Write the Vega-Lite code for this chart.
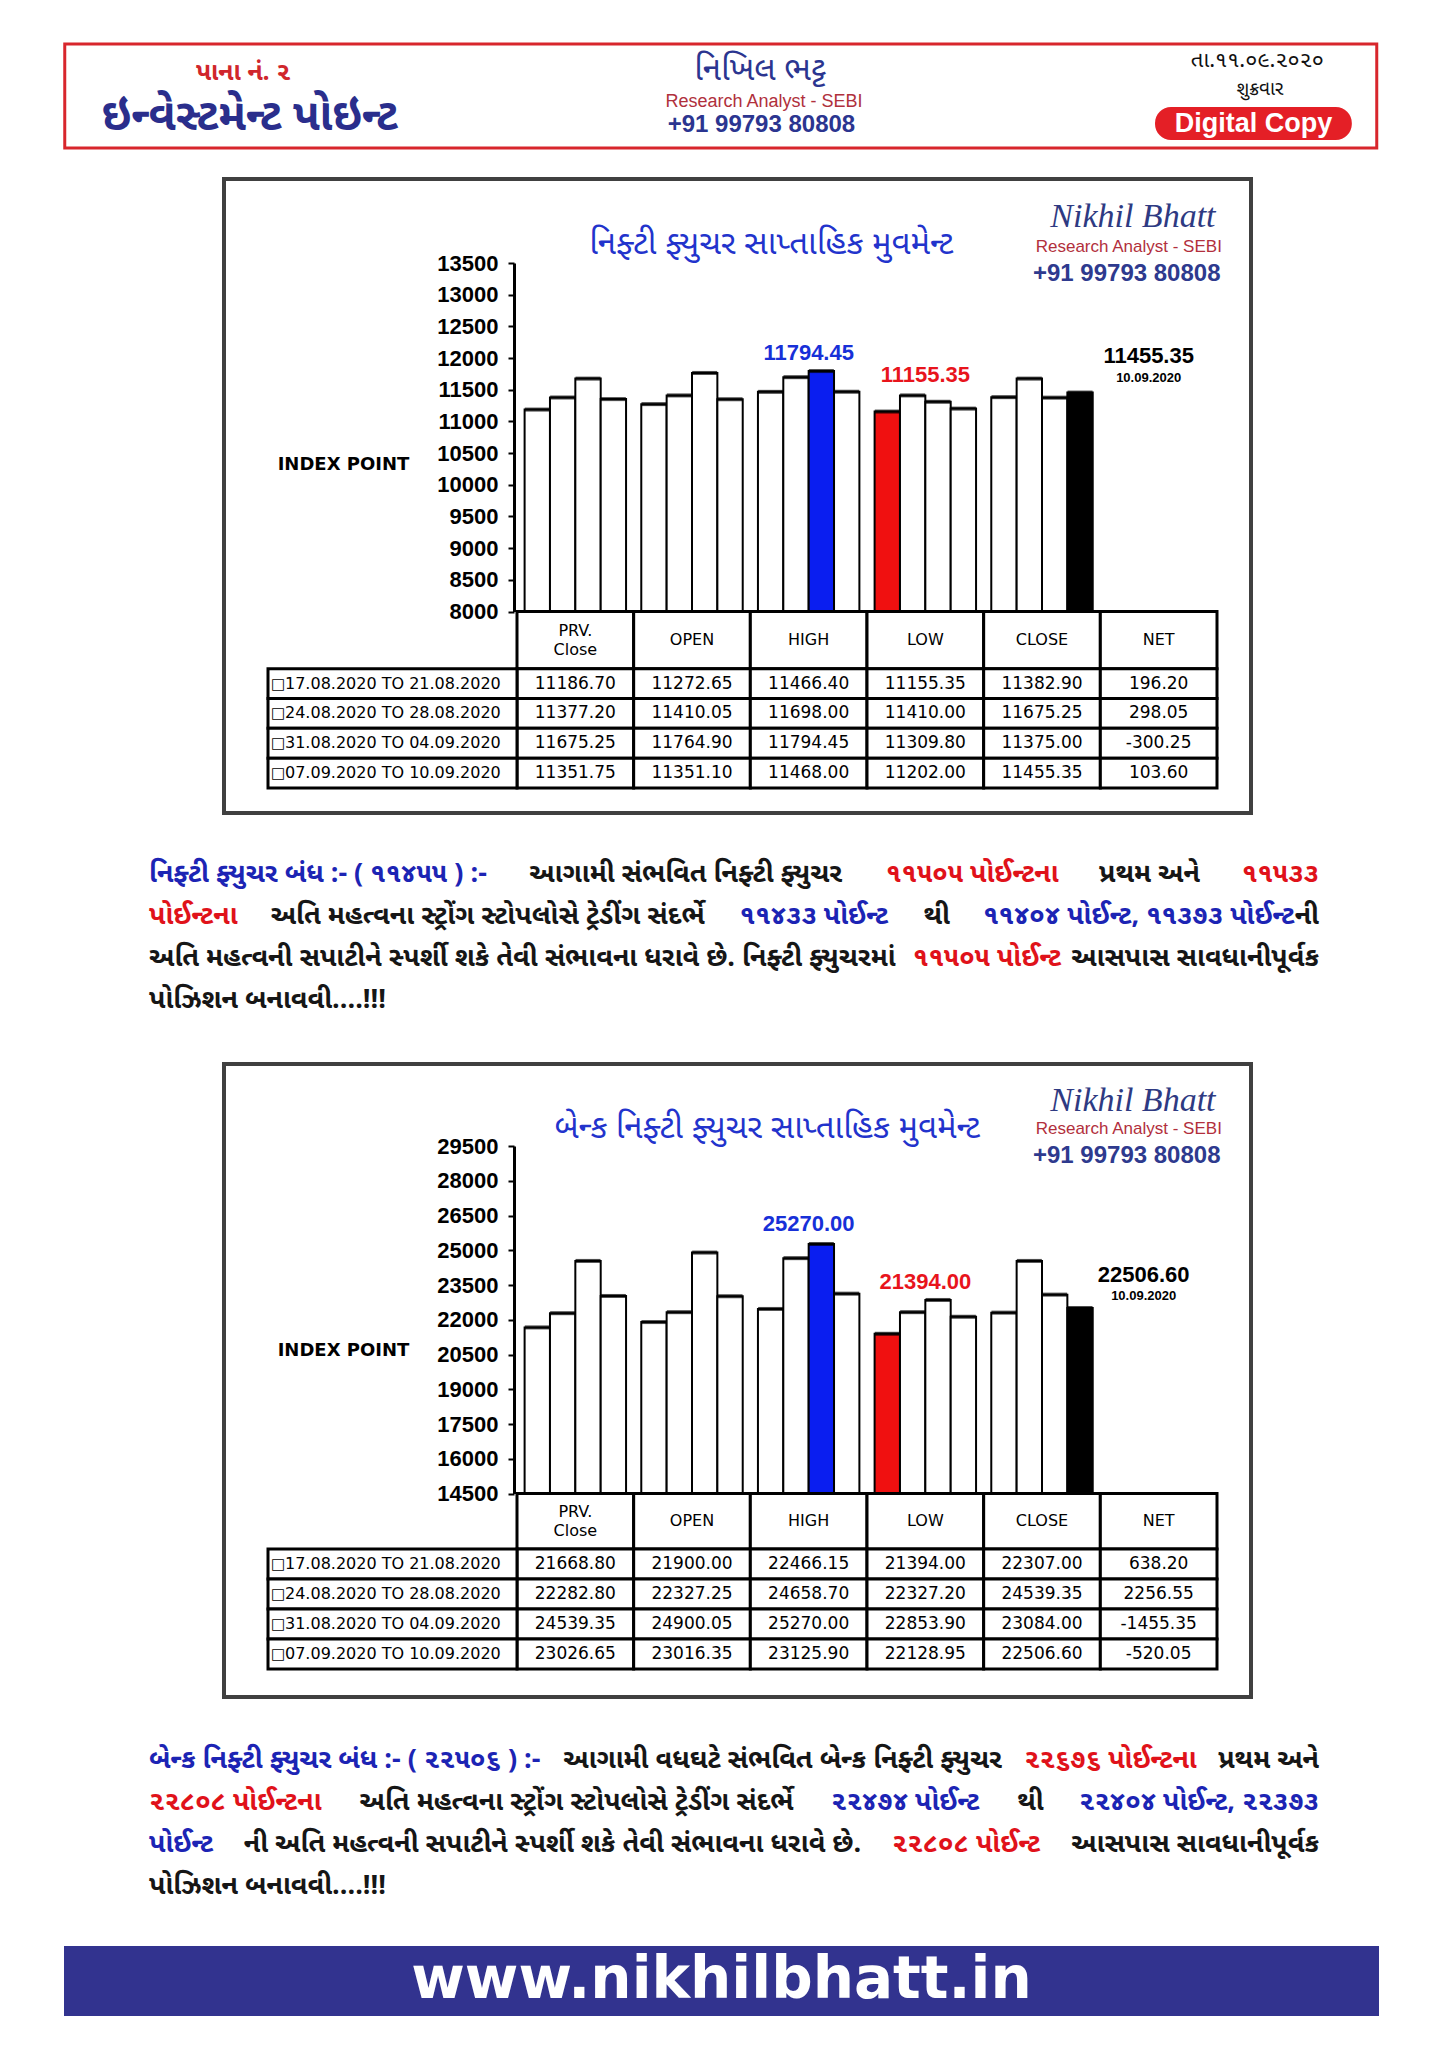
{
  "$schema": "https://vega.github.io/schema/vega-lite/v6.json",
  "background": "white",
  "padding": {"left": 63, "top": 42, "right": 70, "bottom": 30},
  "spacing": 27,
  "center": true,
  "config": {
    "view": {"stroke": null},
    "locale": {"number": {"decimal": ".", "thousands": ",", "grouping": [3], "currency": ["", ""], "minus": "-"}}
  },
  "datasets": {
    "cols": [
      {"col": "PRV", "head": "PRV.\nClose"},
      {"col": "OPEN", "head": "OPEN"},
      {"col": "HIGH", "head": "HIGH"},
      {"col": "LOW", "head": "LOW"},
      {"col": "CLOSE", "head": "CLOSE"},
      {"col": "NET", "head": "NET"}
    ],
    "nifty": [
      {"period": "17.08.2020 TO 21.08.2020", "week": 1, "col": "PRV", "value": 11186.70, "note": ""},
      {"period": "17.08.2020 TO 21.08.2020", "week": 1, "col": "OPEN", "value": 11272.65, "note": ""},
      {"period": "17.08.2020 TO 21.08.2020", "week": 1, "col": "HIGH", "value": 11466.40, "note": ""},
      {"period": "17.08.2020 TO 21.08.2020", "week": 1, "col": "LOW", "value": 11155.35, "note": "lowest low"},
      {"period": "17.08.2020 TO 21.08.2020", "week": 1, "col": "CLOSE", "value": 11382.90, "note": ""},
      {"period": "17.08.2020 TO 21.08.2020", "week": 1, "col": "NET", "value": 196.20, "note": ""},
      {"period": "24.08.2020 TO 28.08.2020", "week": 2, "col": "PRV", "value": 11377.20, "note": ""},
      {"period": "24.08.2020 TO 28.08.2020", "week": 2, "col": "OPEN", "value": 11410.05, "note": ""},
      {"period": "24.08.2020 TO 28.08.2020", "week": 2, "col": "HIGH", "value": 11698.00, "note": ""},
      {"period": "24.08.2020 TO 28.08.2020", "week": 2, "col": "LOW", "value": 11410.00, "note": ""},
      {"period": "24.08.2020 TO 28.08.2020", "week": 2, "col": "CLOSE", "value": 11675.25, "note": ""},
      {"period": "24.08.2020 TO 28.08.2020", "week": 2, "col": "NET", "value": 298.05, "note": ""},
      {"period": "31.08.2020 TO 04.09.2020", "week": 3, "col": "PRV", "value": 11675.25, "note": ""},
      {"period": "31.08.2020 TO 04.09.2020", "week": 3, "col": "OPEN", "value": 11764.90, "note": ""},
      {"period": "31.08.2020 TO 04.09.2020", "week": 3, "col": "HIGH", "value": 11794.45, "note": "highest high"},
      {"period": "31.08.2020 TO 04.09.2020", "week": 3, "col": "LOW", "value": 11309.80, "note": ""},
      {"period": "31.08.2020 TO 04.09.2020", "week": 3, "col": "CLOSE", "value": 11375.00, "note": ""},
      {"period": "31.08.2020 TO 04.09.2020", "week": 3, "col": "NET", "value": -300.25, "note": ""},
      {"period": "07.09.2020 TO 10.09.2020", "week": 4, "col": "PRV", "value": 11351.75, "note": ""},
      {"period": "07.09.2020 TO 10.09.2020", "week": 4, "col": "OPEN", "value": 11351.10, "note": ""},
      {"period": "07.09.2020 TO 10.09.2020", "week": 4, "col": "HIGH", "value": 11468.00, "note": ""},
      {"period": "07.09.2020 TO 10.09.2020", "week": 4, "col": "LOW", "value": 11202.00, "note": ""},
      {"period": "07.09.2020 TO 10.09.2020", "week": 4, "col": "CLOSE", "value": 11455.35, "note": "last close", "asof": "10.09.2020"},
      {"period": "07.09.2020 TO 10.09.2020", "week": 4, "col": "NET", "value": 103.60, "note": ""}
    ],
    "bank": [
      {"period": "17.08.2020 TO 21.08.2020", "week": 1, "col": "PRV", "value": 21668.80, "note": ""},
      {"period": "17.08.2020 TO 21.08.2020", "week": 1, "col": "OPEN", "value": 21900.00, "note": ""},
      {"period": "17.08.2020 TO 21.08.2020", "week": 1, "col": "HIGH", "value": 22466.15, "note": ""},
      {"period": "17.08.2020 TO 21.08.2020", "week": 1, "col": "LOW", "value": 21394.00, "note": "lowest low"},
      {"period": "17.08.2020 TO 21.08.2020", "week": 1, "col": "CLOSE", "value": 22307.00, "note": ""},
      {"period": "17.08.2020 TO 21.08.2020", "week": 1, "col": "NET", "value": 638.20, "note": ""},
      {"period": "24.08.2020 TO 28.08.2020", "week": 2, "col": "PRV", "value": 22282.80, "note": ""},
      {"period": "24.08.2020 TO 28.08.2020", "week": 2, "col": "OPEN", "value": 22327.25, "note": ""},
      {"period": "24.08.2020 TO 28.08.2020", "week": 2, "col": "HIGH", "value": 24658.70, "note": ""},
      {"period": "24.08.2020 TO 28.08.2020", "week": 2, "col": "LOW", "value": 22327.20, "note": ""},
      {"period": "24.08.2020 TO 28.08.2020", "week": 2, "col": "CLOSE", "value": 24539.35, "note": ""},
      {"period": "24.08.2020 TO 28.08.2020", "week": 2, "col": "NET", "value": 2256.55, "note": ""},
      {"period": "31.08.2020 TO 04.09.2020", "week": 3, "col": "PRV", "value": 24539.35, "note": ""},
      {"period": "31.08.2020 TO 04.09.2020", "week": 3, "col": "OPEN", "value": 24900.05, "note": ""},
      {"period": "31.08.2020 TO 04.09.2020", "week": 3, "col": "HIGH", "value": 25270.00, "note": "highest high"},
      {"period": "31.08.2020 TO 04.09.2020", "week": 3, "col": "LOW", "value": 22853.90, "note": ""},
      {"period": "31.08.2020 TO 04.09.2020", "week": 3, "col": "CLOSE", "value": 23084.00, "note": ""},
      {"period": "31.08.2020 TO 04.09.2020", "week": 3, "col": "NET", "value": -1455.35, "note": ""},
      {"period": "07.09.2020 TO 10.09.2020", "week": 4, "col": "PRV", "value": 23026.65, "note": ""},
      {"period": "07.09.2020 TO 10.09.2020", "week": 4, "col": "OPEN", "value": 23016.35, "note": ""},
      {"period": "07.09.2020 TO 10.09.2020", "week": 4, "col": "HIGH", "value": 23125.90, "note": ""},
      {"period": "07.09.2020 TO 10.09.2020", "week": 4, "col": "LOW", "value": 22128.95, "note": ""},
      {"period": "07.09.2020 TO 10.09.2020", "week": 4, "col": "CLOSE", "value": 22506.60, "note": "last close", "asof": "10.09.2020"},
      {"period": "07.09.2020 TO 10.09.2020", "week": 4, "col": "NET", "value": -520.05, "note": ""}
    ]
  },
  "vconcat": [
    {
      "width": 1312, "height": 104,
      "view": {"stroke": "#d8262c", "strokeWidth": 3, "fill": "white"},
      "layer": [
        {"data": {"values": [{"t": "પાના નં. ૨"}]}, "mark": {"type": "text", "font": "Noto Sans Gujarati, sans-serif", "fontSize": 25, "fontWeight": "bold", "color": "#d0262c", "baseline": "middle"},
         "encoding": {"x": {"datum": 13.6, "type": "quantitative", "scale": {"domain": [0, 100], "nice": false}, "axis": null}, "y": {"datum": 26.9, "type": "quantitative", "scale": {"domain": [0, 100], "nice": false, "reverse": true}, "axis": null}, "text": {"field": "t"}}},
        {"data": {"values": [{"t": "ઇન્વેસ્ટમેન્ટ પોઇન્ટ"}]}, "mark": {"type": "text", "font": "Noto Sans Gujarati, sans-serif", "fontSize": 44, "fontWeight": "bold", "color": "#2a2e8c", "baseline": "middle"},
         "encoding": {"x": {"datum": 14.1, "type": "quantitative", "scale": {"domain": [0, 100], "nice": false}, "axis": null}, "y": {"datum": 70.2, "type": "quantitative", "scale": {"domain": [0, 100], "nice": false, "reverse": true}, "axis": null}, "text": {"field": "t"}}},
        {"data": {"values": [{"t": "નિખિલ ભટ્ટ"}]}, "mark": {"type": "text", "font": "Noto Sans Gujarati, sans-serif", "fontSize": 33, "color": "#2b3590", "baseline": "middle"},
         "encoding": {"x": {"datum": 53.0, "type": "quantitative", "scale": {"domain": [0, 100], "nice": false}, "axis": null}, "y": {"datum": 25, "type": "quantitative", "scale": {"domain": [0, 100], "nice": false, "reverse": true}, "axis": null}, "text": {"field": "t"}}},
        {"data": {"values": [{"t": "Research Analyst - SEBI"}]}, "mark": {"type": "text", "font": "Liberation Sans", "fontSize": 18, "color": "#b0303c", "baseline": "middle"},
         "encoding": {"x": {"datum": 53.3, "type": "quantitative", "scale": {"domain": [0, 100], "nice": false}, "axis": null}, "y": {"datum": 55.8, "type": "quantitative", "scale": {"domain": [0, 100], "nice": false, "reverse": true}, "axis": null}, "text": {"field": "t"}}},
        {"data": {"values": [{"t": "+91 99793 80808"}]}, "mark": {"type": "text", "font": "Liberation Sans", "fontSize": 24, "fontWeight": "bold", "color": "#2b3590", "baseline": "middle"},
         "encoding": {"x": {"datum": 53.1, "type": "quantitative", "scale": {"domain": [0, 100], "nice": false}, "axis": null}, "y": {"datum": 77.9, "type": "quantitative", "scale": {"domain": [0, 100], "nice": false, "reverse": true}, "axis": null}, "text": {"field": "t"}}},
        {"data": {"values": [{"t": "તા.૧૧.૦૯.૨૦૨૦"}]}, "mark": {"type": "text", "font": "Noto Sans Gujarati, sans-serif", "fontSize": 22, "color": "#111111", "baseline": "middle"},
         "encoding": {"x": {"datum": 90.9, "type": "quantitative", "scale": {"domain": [0, 100], "nice": false}, "axis": null}, "y": {"datum": 15.4, "type": "quantitative", "scale": {"domain": [0, 100], "nice": false, "reverse": true}, "axis": null}, "text": {"field": "t"}}},
        {"data": {"values": [{"t": "શુક્રવાર"}]}, "mark": {"type": "text", "font": "Noto Sans Gujarati, sans-serif", "fontSize": 19, "color": "#111111", "baseline": "middle"},
         "encoding": {"x": {"datum": 91.1, "type": "quantitative", "scale": {"domain": [0, 100], "nice": false}, "axis": null}, "y": {"datum": 43.5, "type": "quantitative", "scale": {"domain": [0, 100], "nice": false, "reverse": true}, "axis": null}, "text": {"field": "t"}}},
        {"data": {"values": [{"t": "Digital Copy"}]}, "mark": {"type": "rect", "fill": "#e41f26", "cornerRadius": 16},
         "encoding": {"x": {"datum": 83.1, "type": "quantitative", "scale": {"domain": [0, 100], "nice": false}, "axis": null}, "x2": {"datum": 98.1}, "y": {"datum": 60.6, "type": "quantitative", "scale": {"domain": [0, 100], "nice": false, "reverse": true}, "axis": null}, "y2": {"datum": 92.3}}},
        {"data": {"values": [{"t": "Digital Copy"}]}, "mark": {"type": "text", "font": "Liberation Sans", "fontSize": 27, "fontWeight": "bold", "color": "#ffffff", "baseline": "middle"},
         "encoding": {"x": {"datum": 90.6, "type": "quantitative", "scale": {"domain": [0, 100], "nice": false}, "axis": null}, "y": {"datum": 77, "type": "quantitative", "scale": {"domain": [0, 100], "nice": false, "reverse": true}, "axis": null}, "text": {"field": "t"}}}
      ]
    },
    {
      "spacing": 0,
      "hconcat": [
        {"width": 32, "height": 634, "view": {"fill": "#ffffff", "stroke": null}, "data": {"values": [{"t": ""}]}, "mark": {"type": "text"}, "encoding": {"text": {"field": "t"}}},
        {
          "width": 1027, "height": 634,
          "view": {"stroke": "#404040", "strokeWidth": 4, "fill": "white"},
          "layer": [
            {
              "data": {"name": "nifty"},
              "transform": [{"filter": "datum.col != 'NET'"}],
              "layer": [
                {"mark": {"type": "bar", "stroke": "#000000", "strokeWidth": 2},
                 "encoding": {
                   "x": {"field": "col", "type": "nominal", "scale": {"domain": ["PRV", "OPEN", "HIGH", "LOW", "CLOSE", "NET"], "range": [293, 993], "paddingInner": 0, "paddingOuter": 0}, "axis": null},
                   "xOffset": {"field": "week", "type": "nominal", "scale": {"paddingInner": 0, "paddingOuter": 0.3}},
                   "y": {"field": "value", "type": "quantitative", "scale": {"domain": [8000, 13500], "range": [432.5, 84], "zero": false, "nice": false},
                     "axis": {"values": [8000, 8500, 9000, 9500, 10000, 10500, 11000, 11500, 12000, 12500, 13000, 13500], "format": "d", "offset": -290, "grid": false, "domainColor": "#000000", "domainWidth": 3, "tickColor": "#000000", "tickWidth": 2, "tickSize": 6, "labelFont": "Liberation Sans", "labelFontSize": 22, "labelFontWeight": "bold", "labelColor": "#000000", "labelPadding": 10, "labelFlush": false, "labelOverlap": false, "title": "INDEX POINT", "titleAngle": 0, "titleAlign": "center", "titleBaseline": "middle", "titleX": -171, "titleY": 285, "titleFont": "DejaVu Sans", "titleFontSize": 18, "titleFontWeight": "bold", "titleColor": "#000000"}},
                   "y2": {"datum": 8000},
                   "fill": {"field": "note", "type": "nominal", "scale": {"domain": ["", "highest high", "lowest low", "last close"], "range": ["#ffffff", "#0a1ef0", "#f01010", "#000000"]}, "legend": null}
                 }},
                {"mark": {"type": "tick", "color": "#000000", "thickness": 4, "size": 25},
                 "encoding": {"x": {"field": "col", "type": "nominal"}, "xOffset": {"field": "week", "type": "nominal"}, "y": {"field": "value", "type": "quantitative"}}},
                {"transform": [{"filter": "datum.note == 'highest high'"}],
                 "mark": {"type": "text", "font": "Liberation Sans", "fontSize": 22, "fontWeight": "bold", "color": "#1730d8", "dy": -18, "baseline": "middle"},
                 "encoding": {"x": {"field": "col", "type": "nominal"}, "y": {"field": "value", "type": "quantitative"}, "text": {"field": "value", "type": "quantitative", "format": ".2f"}}},
                {"transform": [{"filter": "datum.note == 'lowest low'"}],
                 "mark": {"type": "text", "font": "Liberation Sans", "fontSize": 22, "fontWeight": "bold", "color": "#e8141c", "dy": -37, "baseline": "middle"},
                 "encoding": {"x": {"field": "col", "type": "nominal"}, "y": {"field": "value", "type": "quantitative"}, "text": {"field": "value", "type": "quantitative", "format": ".2f"}}},
                {"transform": [{"filter": "datum.note == 'last close'"}],
                 "mark": {"type": "text", "font": "Liberation Sans", "fontSize": 22, "fontWeight": "bold", "color": "#000000", "dy": -37, "dx": -10, "baseline": "middle"},
                 "encoding": {"x": {"datum": "NET", "type": "nominal"}, "y": {"field": "value", "type": "quantitative"}, "text": {"field": "value", "type": "quantitative", "format": ".2f"}}},
                {"transform": [{"filter": "datum.note == 'last close'"}],
                 "mark": {"type": "text", "font": "Liberation Sans", "fontSize": 13, "fontWeight": "bold", "color": "#000000", "dy": -15, "dx": -10, "baseline": "middle"},
                 "encoding": {"x": {"datum": "NET", "type": "nominal"}, "y": {"field": "value", "type": "quantitative"}, "text": {"field": "asof"}}}
              ]
            },
            {
              "data": {"name": "cols"},
              "layer": [
                {"mark": {"type": "rect", "fill": "#ffffff", "stroke": "#000000", "strokeWidth": 3},
                 "encoding": {"x": {"field": "col", "type": "nominal", "scale": {"domain": ["PRV", "OPEN", "HIGH", "LOW", "CLOSE", "NET"], "range": [293, 993], "paddingInner": 0, "paddingOuter": 0}, "axis": null},
                   "y": {"datum": "head", "type": "nominal", "scale": {"domain": ["head"], "range": [432.5, 489.7], "paddingInner": 0, "paddingOuter": 0}, "axis": null}}},
                {"transform": [{"filter": "datum.col != 'PRV'"}],
                 "mark": {"type": "text", "font": "DejaVu Sans", "fontSize": 16, "color": "#000000", "baseline": "middle"},
                 "encoding": {"x": {"field": "col", "type": "nominal"}, "y": {"datum": "head", "type": "nominal"}, "text": {"field": "head"}}},
                {"transform": [{"filter": "datum.col == 'PRV'"}],
                 "mark": {"type": "text", "font": "DejaVu Sans", "fontSize": 16, "color": "#000000", "lineBreak": "\n", "lineHeight": 19, "baseline": "middle", "dy": -9.5},
                 "encoding": {"x": {"field": "col", "type": "nominal"}, "y": {"datum": "head", "type": "nominal"}, "text": {"field": "head"}}}
              ]
            },
            {
              "data": {"name": "nifty"},
              "layer": [
                {"mark": {"type": "rect", "fill": "#ffffff", "stroke": "#000000", "strokeWidth": 3},
                 "encoding": {"x": {"field": "col", "type": "nominal", "scale": {"domain": ["PRV", "OPEN", "HIGH", "LOW", "CLOSE", "NET"], "range": [293, 993], "paddingInner": 0, "paddingOuter": 0}, "axis": null},
                   "y": {"field": "period", "type": "nominal", "scale": {"domain": ["17.08.2020 TO 21.08.2020", "24.08.2020 TO 28.08.2020", "31.08.2020 TO 04.09.2020", "07.09.2020 TO 10.09.2020"], "range": [489.7, 609], "paddingInner": 0, "paddingOuter": 0}, "axis": null}}},
                {"mark": {"type": "text", "font": "DejaVu Sans", "fontSize": 17, "color": "#000000", "baseline": "middle"},
                 "encoding": {"x": {"field": "col", "type": "nominal"}, "y": {"field": "period", "type": "nominal"}, "text": {"field": "value", "type": "quantitative", "format": ".2f"}}}
              ]
            },
            {
              "data": {"name": "nifty"},
              "transform": [{"filter": "datum.col == 'PRV'"}],
              "layer": [
                {"mark": {"type": "rect", "fill": "#ffffff", "stroke": "#000000", "strokeWidth": 3},
                 "encoding": {"x": {"datum": "period", "type": "nominal", "scale": {"domain": ["period"], "range": [44, 293], "paddingInner": 0, "paddingOuter": 0}, "axis": null},
                   "y": {"field": "period", "type": "nominal", "scale": {"domain": ["17.08.2020 TO 21.08.2020", "24.08.2020 TO 28.08.2020", "31.08.2020 TO 04.09.2020", "07.09.2020 TO 10.09.2020"], "range": [489.7, 609], "paddingInner": 0, "paddingOuter": 0}, "axis": null}}},
                {"mark": {"type": "text", "font": "DejaVu Sans", "fontSize": 15, "fontWeight": "bold", "color": "#000000", "align": "center", "baseline": "middle", "dx": 10},
                 "encoding": {"x": {"datum": "period", "type": "nominal", "bandPosition": 0}, "y": {"field": "period", "type": "nominal"}, "text": {"value": "□"}}},
                {"mark": {"type": "text", "font": "DejaVu Sans", "fontSize": 16, "color": "#000000", "align": "left", "baseline": "middle", "dx": 17},
                 "encoding": {"x": {"datum": "period", "type": "nominal", "bandPosition": 0}, "y": {"field": "period", "type": "nominal"}, "text": {"field": "period"}}}
              ]
            },
            {
              "layer": [
                {"data": {"values": [{"t": "નિફ્ટી ફ્યુચર સાપ્તાહિક મુવમેન્ટ"}]}, "mark": {"type": "text", "font": "Noto Sans Gujarati, sans-serif", "fontSize": 33, "color": "#2233cc", "baseline": "middle"},
                 "encoding": {"x": {"datum": 53.3, "type": "quantitative", "scale": {"domain": [0, 100], "nice": false}, "axis": null}, "y": {"datum": 10.2, "type": "quantitative", "scale": {"domain": [0, 100], "nice": false, "reverse": true}, "axis": null}, "text": {"field": "t"}}},
                {"data": {"values": [{"t": "Nikhil Bhatt"}]}, "mark": {"type": "text", "font": "Liberation Serif", "fontSize": 34, "fontStyle": "italic", "color": "#2e3a82", "baseline": "middle"},
                 "encoding": {"x": {"datum": 88.5, "type": "quantitative", "scale": {"domain": [0, 100], "nice": false}, "axis": null}, "y": {"datum": 6.0, "type": "quantitative", "scale": {"domain": [0, 100], "nice": false, "reverse": true}, "axis": null}, "text": {"field": "t"}}},
                {"data": {"values": [{"t": "Research Analyst - SEBI"}]}, "mark": {"type": "text", "font": "Liberation Sans", "fontSize": 17, "color": "#b22f3c", "baseline": "middle"},
                 "encoding": {"x": {"datum": 88.1, "type": "quantitative", "scale": {"domain": [0, 100], "nice": false}, "axis": null}, "y": {"datum": 10.7, "type": "quantitative", "scale": {"domain": [0, 100], "nice": false, "reverse": true}, "axis": null}, "text": {"field": "t"}}},
                {"data": {"values": [{"t": "+91 99793 80808"}]}, "mark": {"type": "text", "font": "Liberation Sans", "fontSize": 24, "fontWeight": "bold", "color": "#2e3a8e", "baseline": "middle"},
                 "encoding": {"x": {"datum": 87.9, "type": "quantitative", "scale": {"domain": [0, 100], "nice": false}, "axis": null}, "y": {"datum": 15.0, "type": "quantitative", "scale": {"domain": [0, 100], "nice": false, "reverse": true}, "axis": null}, "text": {"field": "t"}}}
              ]
            }
          ],
          "resolve": {"scale": {"x": "independent", "y": "independent", "fill": "independent"}}
        }
      ]
    },
    {
      "width": 1195, "height": 193,
      "layer": [
        {"data": {"values": [{"t": "નિફ્ટી ફ્યુચર બંધ :- ( ૧૧૪૫૫ ) :-"}]}, "mark": {"type": "text", "align": "left", "baseline": "middle", "font": "Noto Sans Gujarati, sans-serif", "fontSize": 27, "fontWeight": "bold", "color": "#1c24b4"},
         "encoding": {"x": {"datum": 0, "type": "quantitative", "scale": {"domain": [0, 1], "range": [25, 1195], "nice": false, "zero": false}, "axis": null}, "y": {"datum": 1, "type": "quantitative", "scale": {"domain": [1, 4], "range": [32, 158], "nice": false, "zero": false}, "axis": null}, "text": {"field": "t"}}},
        {"data": {"values": [{"t": "આગામી સંભવિત નિફ્ટી ફ્યુચર"}]}, "mark": {"type": "text", "align": "left", "baseline": "middle", "font": "Noto Sans Gujarati, sans-serif", "fontSize": 27, "fontWeight": "bold", "color": "#161616"},
         "encoding": {"x": {"datum": 0.325, "type": "quantitative", "scale": {"domain": [0, 1], "range": [25, 1195], "nice": false, "zero": false}, "axis": null}, "y": {"datum": 1, "type": "quantitative", "scale": {"domain": [1, 4], "range": [32, 158], "nice": false, "zero": false}, "axis": null}, "text": {"field": "t"}}},
        {"data": {"values": [{"t": "૧૧૫૦૫ પોઈન્ટના"}]}, "mark": {"type": "text", "align": "left", "baseline": "middle", "font": "Noto Sans Gujarati, sans-serif", "fontSize": 27, "fontWeight": "bold", "color": "#e0121a"},
         "encoding": {"x": {"datum": 0.630, "type": "quantitative", "scale": {"domain": [0, 1], "range": [25, 1195], "nice": false, "zero": false}, "axis": null}, "y": {"datum": 1, "type": "quantitative", "scale": {"domain": [1, 4], "range": [32, 158], "nice": false, "zero": false}, "axis": null}, "text": {"field": "t"}}},
        {"data": {"values": [{"t": "પ્રથમ અને"}]}, "mark": {"type": "text", "align": "left", "baseline": "middle", "font": "Noto Sans Gujarati, sans-serif", "fontSize": 27, "fontWeight": "bold", "color": "#161616"},
         "encoding": {"x": {"datum": 0.812, "type": "quantitative", "scale": {"domain": [0, 1], "range": [25, 1195], "nice": false, "zero": false}, "axis": null}, "y": {"datum": 1, "type": "quantitative", "scale": {"domain": [1, 4], "range": [32, 158], "nice": false, "zero": false}, "axis": null}, "text": {"field": "t"}}},
        {"data": {"values": [{"t": "૧૧૫૩૩"}]}, "mark": {"type": "text", "align": "right", "baseline": "middle", "font": "Noto Sans Gujarati, sans-serif", "fontSize": 27, "fontWeight": "bold", "color": "#e0121a"},
         "encoding": {"x": {"datum": 1, "type": "quantitative", "scale": {"domain": [0, 1], "range": [25, 1195], "nice": false, "zero": false}, "axis": null}, "y": {"datum": 1, "type": "quantitative", "scale": {"domain": [1, 4], "range": [32, 158], "nice": false, "zero": false}, "axis": null}, "text": {"field": "t"}}},
        {"data": {"values": [{"t": "પોઈન્ટના"}]}, "mark": {"type": "text", "align": "left", "baseline": "middle", "font": "Noto Sans Gujarati, sans-serif", "fontSize": 27, "fontWeight": "bold", "color": "#e0121a"},
         "encoding": {"x": {"datum": 0, "type": "quantitative", "scale": {"domain": [0, 1], "range": [25, 1195], "nice": false, "zero": false}, "axis": null}, "y": {"datum": 2, "type": "quantitative", "scale": {"domain": [1, 4], "range": [32, 158], "nice": false, "zero": false}, "axis": null}, "text": {"field": "t"}}},
        {"data": {"values": [{"t": "અતિ મહત્વના સ્ટ્રોંગ સ્ટોપલોસે ટ્રેડીંગ સંદર્ભે"}]}, "mark": {"type": "text", "align": "left", "baseline": "middle", "font": "Noto Sans Gujarati, sans-serif", "fontSize": 27, "fontWeight": "bold", "color": "#161616"},
         "encoding": {"x": {"datum": 0.104, "type": "quantitative", "scale": {"domain": [0, 1], "range": [25, 1195], "nice": false, "zero": false}, "axis": null}, "y": {"datum": 2, "type": "quantitative", "scale": {"domain": [1, 4], "range": [32, 158], "nice": false, "zero": false}, "axis": null}, "text": {"field": "t"}}},
        {"data": {"values": [{"t": "૧૧૪૩૩ પોઈન્ટ"}]}, "mark": {"type": "text", "align": "left", "baseline": "middle", "font": "Noto Sans Gujarati, sans-serif", "fontSize": 27, "fontWeight": "bold", "color": "#1c24b4"},
         "encoding": {"x": {"datum": 0.505, "type": "quantitative", "scale": {"domain": [0, 1], "range": [25, 1195], "nice": false, "zero": false}, "axis": null}, "y": {"datum": 2, "type": "quantitative", "scale": {"domain": [1, 4], "range": [32, 158], "nice": false, "zero": false}, "axis": null}, "text": {"field": "t"}}},
        {"data": {"values": [{"t": "થી"}]}, "mark": {"type": "text", "align": "left", "baseline": "middle", "font": "Noto Sans Gujarati, sans-serif", "fontSize": 27, "fontWeight": "bold", "color": "#161616"},
         "encoding": {"x": {"datum": 0.662, "type": "quantitative", "scale": {"domain": [0, 1], "range": [25, 1195], "nice": false, "zero": false}, "axis": null}, "y": {"datum": 2, "type": "quantitative", "scale": {"domain": [1, 4], "range": [32, 158], "nice": false, "zero": false}, "axis": null}, "text": {"field": "t"}}},
        {"data": {"values": [{"t": "૧૧૪૦૪ પોઈન્ટ, ૧૧૩૭૩ પોઈન્ટ"}]}, "mark": {"type": "text", "align": "right", "baseline": "middle", "font": "Noto Sans Gujarati, sans-serif", "fontSize": 27, "fontWeight": "bold", "color": "#1c24b4"},
         "encoding": {"x": {"datum": 0.979, "type": "quantitative", "scale": {"domain": [0, 1], "range": [25, 1195], "nice": false, "zero": false}, "axis": null}, "y": {"datum": 2, "type": "quantitative", "scale": {"domain": [1, 4], "range": [32, 158], "nice": false, "zero": false}, "axis": null}, "text": {"field": "t"}}},
        {"data": {"values": [{"t": "ની"}]}, "mark": {"type": "text", "align": "right", "baseline": "middle", "font": "Noto Sans Gujarati, sans-serif", "fontSize": 27, "fontWeight": "bold", "color": "#161616"},
         "encoding": {"x": {"datum": 1, "type": "quantitative", "scale": {"domain": [0, 1], "range": [25, 1195], "nice": false, "zero": false}, "axis": null}, "y": {"datum": 2, "type": "quantitative", "scale": {"domain": [1, 4], "range": [32, 158], "nice": false, "zero": false}, "axis": null}, "text": {"field": "t"}}},
        {"data": {"values": [{"t": "અતિ મહત્વની સપાટીને સ્પર્શી શકે તેવી સંભાવના ધરાવે છે. નિફ્ટી ફ્યુચરમાં"}]}, "mark": {"type": "text", "align": "left", "baseline": "middle", "font": "Noto Sans Gujarati, sans-serif", "fontSize": 27, "fontWeight": "bold", "color": "#161616"},
         "encoding": {"x": {"datum": 0, "type": "quantitative", "scale": {"domain": [0, 1], "range": [25, 1195], "nice": false, "zero": false}, "axis": null}, "y": {"datum": 3, "type": "quantitative", "scale": {"domain": [1, 4], "range": [32, 158], "nice": false, "zero": false}, "axis": null}, "text": {"field": "t"}}},
        {"data": {"values": [{"t": "૧૧૫૦૫ પોઈન્ટ"}]}, "mark": {"type": "text", "align": "left", "baseline": "middle", "font": "Noto Sans Gujarati, sans-serif", "fontSize": 27, "fontWeight": "bold", "color": "#e0121a"},
         "encoding": {"x": {"datum": 0.653, "type": "quantitative", "scale": {"domain": [0, 1], "range": [25, 1195], "nice": false, "zero": false}, "axis": null}, "y": {"datum": 3, "type": "quantitative", "scale": {"domain": [1, 4], "range": [32, 158], "nice": false, "zero": false}, "axis": null}, "text": {"field": "t"}}},
        {"data": {"values": [{"t": "આસપાસ સાવધાનીપૂર્વક"}]}, "mark": {"type": "text", "align": "right", "baseline": "middle", "font": "Noto Sans Gujarati, sans-serif", "fontSize": 27, "fontWeight": "bold", "color": "#161616"},
         "encoding": {"x": {"datum": 1, "type": "quantitative", "scale": {"domain": [0, 1], "range": [25, 1195], "nice": false, "zero": false}, "axis": null}, "y": {"datum": 3, "type": "quantitative", "scale": {"domain": [1, 4], "range": [32, 158], "nice": false, "zero": false}, "axis": null}, "text": {"field": "t"}}},
        {"data": {"values": [{"t": "પોઝિશન બનાવવી....!!!"}]}, "mark": {"type": "text", "align": "left", "baseline": "middle", "font": "Noto Sans Gujarati, sans-serif", "fontSize": 27, "fontWeight": "bold", "color": "#161616"},
         "encoding": {"x": {"datum": 0, "type": "quantitative", "scale": {"domain": [0, 1], "range": [25, 1195], "nice": false, "zero": false}, "axis": null}, "y": {"datum": 4, "type": "quantitative", "scale": {"domain": [1, 4], "range": [32, 158], "nice": false, "zero": false}, "axis": null}, "text": {"field": "t"}}}
      ]
    },
    {
      "spacing": 0,
      "hconcat": [
        {"width": 32, "height": 633, "view": {"fill": "#ffffff", "stroke": null}, "data": {"values": [{"t": ""}]}, "mark": {"type": "text"}, "encoding": {"text": {"field": "t"}}},
        {
          "width": 1027, "height": 633,
          "view": {"stroke": "#404040", "strokeWidth": 4, "fill": "white"},
          "layer": [
            {
              "data": {"name": "bank"},
              "transform": [{"filter": "datum.col != 'NET'"}],
              "layer": [
                {"mark": {"type": "bar", "stroke": "#000000", "strokeWidth": 2},
                 "encoding": {
                   "x": {"field": "col", "type": "nominal", "scale": {"domain": ["PRV", "OPEN", "HIGH", "LOW", "CLOSE", "NET"], "range": [293, 993], "paddingInner": 0, "paddingOuter": 0}, "axis": null},
                   "xOffset": {"field": "week", "type": "nominal", "scale": {"paddingInner": 0, "paddingOuter": 0.3}},
                   "y": {"field": "value", "type": "quantitative", "scale": {"domain": [14500, 29500], "range": [429.5, 82], "zero": false, "nice": false},
                     "axis": {"values": [14500, 16000, 17500, 19000, 20500, 22000, 23500, 25000, 26500, 28000, 29500], "format": "d", "offset": -290, "grid": false, "domainColor": "#000000", "domainWidth": 3, "tickColor": "#000000", "tickWidth": 2, "tickSize": 6, "labelFont": "Liberation Sans", "labelFontSize": 22, "labelFontWeight": "bold", "labelColor": "#000000", "labelPadding": 10, "labelFlush": false, "labelOverlap": false, "title": "INDEX POINT", "titleAngle": 0, "titleAlign": "center", "titleBaseline": "middle", "titleX": -171, "titleY": 286, "titleFont": "DejaVu Sans", "titleFontSize": 18, "titleFontWeight": "bold", "titleColor": "#000000"}},
                   "y2": {"datum": 14500},
                   "fill": {"field": "note", "type": "nominal", "scale": {"domain": ["", "highest high", "lowest low", "last close"], "range": ["#ffffff", "#0a1ef0", "#f01010", "#000000"]}, "legend": null}
                 }},
                {"mark": {"type": "tick", "color": "#000000", "thickness": 4, "size": 25},
                 "encoding": {"x": {"field": "col", "type": "nominal"}, "xOffset": {"field": "week", "type": "nominal"}, "y": {"field": "value", "type": "quantitative"}}},
                {"transform": [{"filter": "datum.note == 'highest high'"}],
                 "mark": {"type": "text", "font": "Liberation Sans", "fontSize": 22, "fontWeight": "bold", "color": "#1730d8", "dy": -20, "baseline": "middle"},
                 "encoding": {"x": {"field": "col", "type": "nominal"}, "y": {"field": "value", "type": "quantitative"}, "text": {"field": "value", "type": "quantitative", "format": ".2f"}}},
                {"transform": [{"filter": "datum.note == 'lowest low'"}],
                 "mark": {"type": "text", "font": "Liberation Sans", "fontSize": 22, "fontWeight": "bold", "color": "#e8141c", "dy": -52, "baseline": "middle"},
                 "encoding": {"x": {"field": "col", "type": "nominal"}, "y": {"field": "value", "type": "quantitative"}, "text": {"field": "value", "type": "quantitative", "format": ".2f"}}},
                {"transform": [{"filter": "datum.note == 'last close'"}],
                 "mark": {"type": "text", "font": "Liberation Sans", "fontSize": 22, "fontWeight": "bold", "color": "#000000", "dy": -33, "dx": -15, "baseline": "middle"},
                 "encoding": {"x": {"datum": "NET", "type": "nominal"}, "y": {"field": "value", "type": "quantitative"}, "text": {"field": "value", "type": "quantitative", "format": ".2f"}}},
                {"transform": [{"filter": "datum.note == 'last close'"}],
                 "mark": {"type": "text", "font": "Liberation Sans", "fontSize": 13, "fontWeight": "bold", "color": "#000000", "dy": -12, "dx": -15, "baseline": "middle"},
                 "encoding": {"x": {"datum": "NET", "type": "nominal"}, "y": {"field": "value", "type": "quantitative"}, "text": {"field": "asof"}}}
              ]
            },
            {
              "data": {"name": "cols"},
              "layer": [
                {"mark": {"type": "rect", "fill": "#ffffff", "stroke": "#000000", "strokeWidth": 3},
                 "encoding": {"x": {"field": "col", "type": "nominal", "scale": {"domain": ["PRV", "OPEN", "HIGH", "LOW", "CLOSE", "NET"], "range": [293, 993], "paddingInner": 0, "paddingOuter": 0}, "axis": null},
                   "y": {"datum": "head", "type": "nominal", "scale": {"domain": ["head"], "range": [429.5, 485], "paddingInner": 0, "paddingOuter": 0}, "axis": null}}},
                {"transform": [{"filter": "datum.col != 'PRV'"}],
                 "mark": {"type": "text", "font": "DejaVu Sans", "fontSize": 16, "color": "#000000", "baseline": "middle"},
                 "encoding": {"x": {"field": "col", "type": "nominal"}, "y": {"datum": "head", "type": "nominal"}, "text": {"field": "head"}}},
                {"transform": [{"filter": "datum.col == 'PRV'"}],
                 "mark": {"type": "text", "font": "DejaVu Sans", "fontSize": 16, "color": "#000000", "lineBreak": "\n", "lineHeight": 19, "baseline": "middle", "dy": -9.5},
                 "encoding": {"x": {"field": "col", "type": "nominal"}, "y": {"datum": "head", "type": "nominal"}, "text": {"field": "head"}}}
              ]
            },
            {
              "data": {"name": "bank"},
              "layer": [
                {"mark": {"type": "rect", "fill": "#ffffff", "stroke": "#000000", "strokeWidth": 3},
                 "encoding": {"x": {"field": "col", "type": "nominal", "scale": {"domain": ["PRV", "OPEN", "HIGH", "LOW", "CLOSE", "NET"], "range": [293, 993], "paddingInner": 0, "paddingOuter": 0}, "axis": null},
                   "y": {"field": "period", "type": "nominal", "scale": {"domain": ["17.08.2020 TO 21.08.2020", "24.08.2020 TO 28.08.2020", "31.08.2020 TO 04.09.2020", "07.09.2020 TO 10.09.2020"], "range": [485, 605], "paddingInner": 0, "paddingOuter": 0}, "axis": null}}},
                {"mark": {"type": "text", "font": "DejaVu Sans", "fontSize": 17, "color": "#000000", "baseline": "middle"},
                 "encoding": {"x": {"field": "col", "type": "nominal"}, "y": {"field": "period", "type": "nominal"}, "text": {"field": "value", "type": "quantitative", "format": ".2f"}}}
              ]
            },
            {
              "data": {"name": "bank"},
              "transform": [{"filter": "datum.col == 'PRV'"}],
              "layer": [
                {"mark": {"type": "rect", "fill": "#ffffff", "stroke": "#000000", "strokeWidth": 3},
                 "encoding": {"x": {"datum": "period", "type": "nominal", "scale": {"domain": ["period"], "range": [44, 293], "paddingInner": 0, "paddingOuter": 0}, "axis": null},
                   "y": {"field": "period", "type": "nominal", "scale": {"domain": ["17.08.2020 TO 21.08.2020", "24.08.2020 TO 28.08.2020", "31.08.2020 TO 04.09.2020", "07.09.2020 TO 10.09.2020"], "range": [485, 605], "paddingInner": 0, "paddingOuter": 0}, "axis": null}}},
                {"mark": {"type": "text", "font": "DejaVu Sans", "fontSize": 15, "fontWeight": "bold", "color": "#000000", "align": "center", "baseline": "middle", "dx": 10},
                 "encoding": {"x": {"datum": "period", "type": "nominal", "bandPosition": 0}, "y": {"field": "period", "type": "nominal"}, "text": {"value": "□"}}},
                {"mark": {"type": "text", "font": "DejaVu Sans", "fontSize": 16, "color": "#000000", "align": "left", "baseline": "middle", "dx": 17},
                 "encoding": {"x": {"datum": "period", "type": "nominal", "bandPosition": 0}, "y": {"field": "period", "type": "nominal"}, "text": {"field": "period"}}}
              ]
            },
            {
              "layer": [
                {"data": {"values": [{"t": "બેન્ક નિફ્ટી ફ્યુચર સાપ્તાહિક મુવમેન્ટ"}]}, "mark": {"type": "text", "font": "Noto Sans Gujarati, sans-serif", "fontSize": 33, "color": "#2233cc", "baseline": "middle"},
                 "encoding": {"x": {"datum": 52.9, "type": "quantitative", "scale": {"domain": [0, 100], "nice": false}, "axis": null}, "y": {"datum": 10.1, "type": "quantitative", "scale": {"domain": [0, 100], "nice": false, "reverse": true}, "axis": null}, "text": {"field": "t"}}},
                {"data": {"values": [{"t": "Nikhil Bhatt"}]}, "mark": {"type": "text", "font": "Liberation Serif", "fontSize": 34, "fontStyle": "italic", "color": "#2e3a82", "baseline": "middle"},
                 "encoding": {"x": {"datum": 88.5, "type": "quantitative", "scale": {"domain": [0, 100], "nice": false}, "axis": null}, "y": {"datum": 5.8, "type": "quantitative", "scale": {"domain": [0, 100], "nice": false, "reverse": true}, "axis": null}, "text": {"field": "t"}}},
                {"data": {"values": [{"t": "Research Analyst - SEBI"}]}, "mark": {"type": "text", "font": "Liberation Sans", "fontSize": 17, "color": "#b22f3c", "baseline": "middle"},
                 "encoding": {"x": {"datum": 88.1, "type": "quantitative", "scale": {"domain": [0, 100], "nice": false}, "axis": null}, "y": {"datum": 10.3, "type": "quantitative", "scale": {"domain": [0, 100], "nice": false, "reverse": true}, "axis": null}, "text": {"field": "t"}}},
                {"data": {"values": [{"t": "+91 99793 80808"}]}, "mark": {"type": "text", "font": "Liberation Sans", "fontSize": 24, "fontWeight": "bold", "color": "#2e3a8e", "baseline": "middle"},
                 "encoding": {"x": {"datum": 87.9, "type": "quantitative", "scale": {"domain": [0, 100], "nice": false}, "axis": null}, "y": {"datum": 14.5, "type": "quantitative", "scale": {"domain": [0, 100], "nice": false, "reverse": true}, "axis": null}, "text": {"field": "t"}}}
              ]
            }
          ],
          "resolve": {"scale": {"x": "independent", "y": "independent", "fill": "independent"}}
        }
      ]
    },
    {
      "width": 1195, "height": 193,
      "layer": [
        {"data": {"values": [{"t": "બેન્ક નિફ્ટી ફ્યુચર બંધ :- ( ૨૨૫૦૬ ) :-"}]}, "mark": {"type": "text", "align": "left", "baseline": "middle", "font": "Noto Sans Gujarati, sans-serif", "fontSize": 27, "fontWeight": "bold", "color": "#1c24b4"},
         "encoding": {"x": {"datum": 0, "type": "quantitative", "scale": {"domain": [0, 1], "range": [25, 1195], "nice": false, "zero": false}, "axis": null}, "y": {"datum": 1, "type": "quantitative", "scale": {"domain": [1, 4], "range": [34, 160], "nice": false, "zero": false}, "axis": null}, "text": {"field": "t"}}},
        {"data": {"values": [{"t": "આગામી વધઘટે સંભવિત બેન્ક નિફ્ટી ફ્યુચર"}]}, "mark": {"type": "text", "align": "left", "baseline": "middle", "font": "Noto Sans Gujarati, sans-serif", "fontSize": 27, "fontWeight": "bold", "color": "#161616"},
         "encoding": {"x": {"datum": 0.354, "type": "quantitative", "scale": {"domain": [0, 1], "range": [25, 1195], "nice": false, "zero": false}, "axis": null}, "y": {"datum": 1, "type": "quantitative", "scale": {"domain": [1, 4], "range": [34, 160], "nice": false, "zero": false}, "axis": null}, "text": {"field": "t"}}},
        {"data": {"values": [{"t": "૨૨૬૭૬ પોઈન્ટના"}]}, "mark": {"type": "text", "align": "left", "baseline": "middle", "font": "Noto Sans Gujarati, sans-serif", "fontSize": 27, "fontWeight": "bold", "color": "#e0121a"},
         "encoding": {"x": {"datum": 0.748, "type": "quantitative", "scale": {"domain": [0, 1], "range": [25, 1195], "nice": false, "zero": false}, "axis": null}, "y": {"datum": 1, "type": "quantitative", "scale": {"domain": [1, 4], "range": [34, 160], "nice": false, "zero": false}, "axis": null}, "text": {"field": "t"}}},
        {"data": {"values": [{"t": "પ્રથમ અને"}]}, "mark": {"type": "text", "align": "right", "baseline": "middle", "font": "Noto Sans Gujarati, sans-serif", "fontSize": 27, "fontWeight": "bold", "color": "#161616"},
         "encoding": {"x": {"datum": 1, "type": "quantitative", "scale": {"domain": [0, 1], "range": [25, 1195], "nice": false, "zero": false}, "axis": null}, "y": {"datum": 1, "type": "quantitative", "scale": {"domain": [1, 4], "range": [34, 160], "nice": false, "zero": false}, "axis": null}, "text": {"field": "t"}}},
        {"data": {"values": [{"t": "૨૨૮૦૮ પોઈન્ટના"}]}, "mark": {"type": "text", "align": "left", "baseline": "middle", "font": "Noto Sans Gujarati, sans-serif", "fontSize": 27, "fontWeight": "bold", "color": "#e0121a"},
         "encoding": {"x": {"datum": 0, "type": "quantitative", "scale": {"domain": [0, 1], "range": [25, 1195], "nice": false, "zero": false}, "axis": null}, "y": {"datum": 2, "type": "quantitative", "scale": {"domain": [1, 4], "range": [34, 160], "nice": false, "zero": false}, "axis": null}, "text": {"field": "t"}}},
        {"data": {"values": [{"t": "અતિ મહત્વના સ્ટ્રોંગ સ્ટોપલોસે ટ્રેડીંગ સંદર્ભે"}]}, "mark": {"type": "text", "align": "left", "baseline": "middle", "font": "Noto Sans Gujarati, sans-serif", "fontSize": 27, "fontWeight": "bold", "color": "#161616"},
         "encoding": {"x": {"datum": 0.180, "type": "quantitative", "scale": {"domain": [0, 1], "range": [25, 1195], "nice": false, "zero": false}, "axis": null}, "y": {"datum": 2, "type": "quantitative", "scale": {"domain": [1, 4], "range": [34, 160], "nice": false, "zero": false}, "axis": null}, "text": {"field": "t"}}},
        {"data": {"values": [{"t": "૨૨૪૭૪ પોઈન્ટ"}]}, "mark": {"type": "text", "align": "left", "baseline": "middle", "font": "Noto Sans Gujarati, sans-serif", "fontSize": 27, "fontWeight": "bold", "color": "#1c24b4"},
         "encoding": {"x": {"datum": 0.583, "type": "quantitative", "scale": {"domain": [0, 1], "range": [25, 1195], "nice": false, "zero": false}, "axis": null}, "y": {"datum": 2, "type": "quantitative", "scale": {"domain": [1, 4], "range": [34, 160], "nice": false, "zero": false}, "axis": null}, "text": {"field": "t"}}},
        {"data": {"values": [{"t": "થી"}]}, "mark": {"type": "text", "align": "left", "baseline": "middle", "font": "Noto Sans Gujarati, sans-serif", "fontSize": 27, "fontWeight": "bold", "color": "#161616"},
         "encoding": {"x": {"datum": 0.742, "type": "quantitative", "scale": {"domain": [0, 1], "range": [25, 1195], "nice": false, "zero": false}, "axis": null}, "y": {"datum": 2, "type": "quantitative", "scale": {"domain": [1, 4], "range": [34, 160], "nice": false, "zero": false}, "axis": null}, "text": {"field": "t"}}},
        {"data": {"values": [{"t": "૨૨૪૦૪ પોઈન્ટ, ૨૨૩૭૩"}]}, "mark": {"type": "text", "align": "right", "baseline": "middle", "font": "Noto Sans Gujarati, sans-serif", "fontSize": 27, "fontWeight": "bold", "color": "#1c24b4"},
         "encoding": {"x": {"datum": 1, "type": "quantitative", "scale": {"domain": [0, 1], "range": [25, 1195], "nice": false, "zero": false}, "axis": null}, "y": {"datum": 2, "type": "quantitative", "scale": {"domain": [1, 4], "range": [34, 160], "nice": false, "zero": false}, "axis": null}, "text": {"field": "t"}}},
        {"data": {"values": [{"t": "પોઈન્ટ"}]}, "mark": {"type": "text", "align": "left", "baseline": "middle", "font": "Noto Sans Gujarati, sans-serif", "fontSize": 27, "fontWeight": "bold", "color": "#1c24b4"},
         "encoding": {"x": {"datum": 0, "type": "quantitative", "scale": {"domain": [0, 1], "range": [25, 1195], "nice": false, "zero": false}, "axis": null}, "y": {"datum": 3, "type": "quantitative", "scale": {"domain": [1, 4], "range": [34, 160], "nice": false, "zero": false}, "axis": null}, "text": {"field": "t"}}},
        {"data": {"values": [{"t": "ની અતિ મહત્વની સપાટીને સ્પર્શી શકે તેવી સંભાવના ધરાવે છે."}]}, "mark": {"type": "text", "align": "left", "baseline": "middle", "font": "Noto Sans Gujarati, sans-serif", "fontSize": 27, "fontWeight": "bold", "color": "#161616"},
         "encoding": {"x": {"datum": 0.081, "type": "quantitative", "scale": {"domain": [0, 1], "range": [25, 1195], "nice": false, "zero": false}, "axis": null}, "y": {"datum": 3, "type": "quantitative", "scale": {"domain": [1, 4], "range": [34, 160], "nice": false, "zero": false}, "axis": null}, "text": {"field": "t"}}},
        {"data": {"values": [{"t": "૨૨૮૦૮ પોઈન્ટ"}]}, "mark": {"type": "text", "align": "left", "baseline": "middle", "font": "Noto Sans Gujarati, sans-serif", "fontSize": 27, "fontWeight": "bold", "color": "#e0121a"},
         "encoding": {"x": {"datum": 0.635, "type": "quantitative", "scale": {"domain": [0, 1], "range": [25, 1195], "nice": false, "zero": false}, "axis": null}, "y": {"datum": 3, "type": "quantitative", "scale": {"domain": [1, 4], "range": [34, 160], "nice": false, "zero": false}, "axis": null}, "text": {"field": "t"}}},
        {"data": {"values": [{"t": "આસપાસ સાવધાનીપૂર્વક"}]}, "mark": {"type": "text", "align": "right", "baseline": "middle", "font": "Noto Sans Gujarati, sans-serif", "fontSize": 27, "fontWeight": "bold", "color": "#161616"},
         "encoding": {"x": {"datum": 1, "type": "quantitative", "scale": {"domain": [0, 1], "range": [25, 1195], "nice": false, "zero": false}, "axis": null}, "y": {"datum": 3, "type": "quantitative", "scale": {"domain": [1, 4], "range": [34, 160], "nice": false, "zero": false}, "axis": null}, "text": {"field": "t"}}},
        {"data": {"values": [{"t": "પોઝિશન બનાવવી....!!!"}]}, "mark": {"type": "text", "align": "left", "baseline": "middle", "font": "Noto Sans Gujarati, sans-serif", "fontSize": 27, "fontWeight": "bold", "color": "#161616"},
         "encoding": {"x": {"datum": 0, "type": "quantitative", "scale": {"domain": [0, 1], "range": [25, 1195], "nice": false, "zero": false}, "axis": null}, "y": {"datum": 4, "type": "quantitative", "scale": {"domain": [1, 4], "range": [34, 160], "nice": false, "zero": false}, "axis": null}, "text": {"field": "t"}}}
      ]
    },
    {
      "width": 1315, "height": 70,
      "view": {"fill": "#32338f", "stroke": null},
      "data": {"values": [{"t": "www.nikhilbhatt.in"}]},
      "mark": {"type": "text", "font": "DejaVu Sans", "fontSize": 58, "fontWeight": "bold", "color": "#ffffff", "baseline": "middle"},
      "encoding": {"text": {"field": "t"}}
    }
  ]
}
